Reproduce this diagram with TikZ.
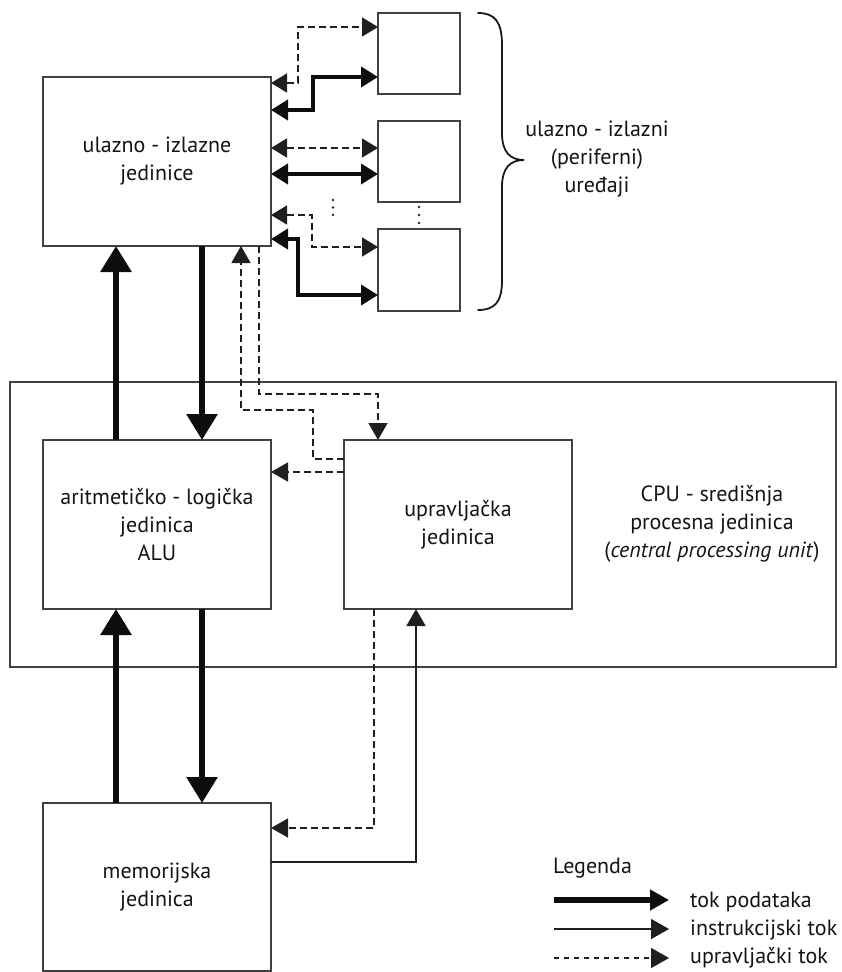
\documentclass[tikz,border=0pt]{standalone}
\usepackage{fontspec}
\setmainfont{PT Sans}
\usetikzlibrary{arrows.meta}
\begin{document}
\begin{tikzpicture}[x=1pt,y=-1pt,
  mainfnt/.style={font={\fontsize{22}{28}\selectfont}},
  box/.style={draw=black!75, line width=1.4pt, inner sep=0pt, outer sep=0pt, align=center, mainfnt, text=black!92},
  txt/.style={inner sep=0pt, align=center, mainfnt, text=black!92},
  bigarrow/.style={draw=black!95, line width=6pt, -{Triangle[length=26pt,width=30pt]}},
  sidethick/.style={draw=black!95, line width=4pt, {Triangle[length=17pt,width=20pt]}-{Triangle[length=17pt,width=20pt]}},
  sidedash/.style={draw=black!88, line width=1.4pt, dash pattern=on 7pt off 4pt, {Triangle[length=16pt,width=19pt]}-{Triangle[length=16pt,width=19pt]}},
  ctrl/.style={draw=black!88, line width=1.4pt, dash pattern=on 7pt off 4pt, -{Triangle[length=17pt,width=19pt]}},
  instr/.style={draw=black!88, line width=1.4pt, -{Triangle[length=17pt,width=19pt]}},
]
\useasboundingbox (0,0) rectangle (842,972);

% boxes
\node[box, minimum width=826pt, minimum height=285pt] (cpu) at (423,524.5) {};
\node[box, minimum width=228pt, minimum height=169pt] (io) at (157,161.5) {ulazno - izlazne\\jedinice};
\node[box, minimum width=82pt, minimum height=81pt] (p1) at (419,53.5) {};
\node[box, minimum width=82pt, minimum height=81pt] (p2) at (419,161.5) {};
\node[box, minimum width=82pt, minimum height=82pt] (p3) at (419,270) {};
\node[box, minimum width=228pt, minimum height=169pt] (alu) at (157,524.5) {aritmetičko - logička\\jedinica\\ALU};
\node[box, minimum width=228pt, minimum height=169pt] (cu) at (458,524.5) {upravljačka\\jedinica};
\node[box, minimum width=228pt, minimum height=168pt] (mem) at (157,887) {memorijska\\jedinica};

% texts
\node[txt] (cputxt) at (712,523.5) {CPU - središnja\\procesna jedinica\\(\textit{central processing unit})};
\node[txt] (periftxt) at (597,159) {ulazno - izlazni\\(periferni)\\uređaji};

% brace
\draw[line width=1.8pt, black!90, line cap=round]
  (478,13) .. controls (495,13) and (502,22) .. (502,45) -- (502,133)
  .. controls (502,152) and (510,160) .. (524,160)
  .. controls (510,160) and (502,168) .. (502,187) -- (502,280)
  .. controls (502,302) and (495,310) .. (478,310);

% dots
\foreach \yy in {200,207.5,215} \fill[black!85] (333,\yy) circle (1.4pt);
\foreach \yy in {207,215,223} \fill[black!85] (419,\yy) circle (1.4pt);

% io <-> peripherals
\draw[sidedash] (io.east |- 0,83) -| (298,27) -- (p1.west |- 0,27);
\draw[sidethick] (io.east |- 0,110) -| (313,77) -- (p1.west |- 0,77);
\draw[sidedash] (io.east |- 0,148) -- (p2.west |- 0,148);
\draw[sidethick] (io.east |- 0,174) -- (p2.west |- 0,174);
\draw[sidedash] (io.east |- 0,215) -| (312,247) -- (p3.west |- 0,247);
\draw[sidethick] (io.east |- 0,239) -| (298,295) -- (p3.west |- 0,295);

% data flows
\draw[bigarrow] (alu.north -| 116,0) -- (io.south -| 116,0);
\draw[bigarrow] (io.south -| 202,0) -- (alu.north -| 202,0);
\draw[bigarrow] (mem.north -| 116,0) -- (alu.south -| 116,0);
\draw[bigarrow] (alu.south -| 202,0) -- (mem.north -| 202,0);

% control flows
\draw[ctrl] (cu.west |- 0,459) -| (313,410) -| (io.south -| 241,0);
\draw[ctrl] (io.south -| 259,0) |- (378,394) -- (cu.north -| 378,0);
\draw[ctrl] (cu.west |- 0,472) -- (alu.east |- 0,472);
\draw[ctrl] (cu.south -| 374,0) |- (mem.east |- 0,828);
\draw[instr] (mem.east |- 0,862) -| (cu.south -| 416,0);

% legend
\node[txt, anchor=west] (leg) at (553,868) {Legenda};
\coordinate (l1a) at (554,900); \coordinate (l1b) at (669,900);
\coordinate (l2a) at (554,929); \coordinate (l2b) at (669,929);
\coordinate (l3a) at (554,958); \coordinate (l3b) at (669,958);
\draw[draw=black!95, line width=5.5pt, -{Triangle[length=19pt,width=20pt]}] (l1a) -- (l1b);
\draw[instr, -{Triangle[length=18pt,width=20pt]}] (l2a) -- (l2b);
\draw[ctrl, dash pattern=on 5pt off 5pt, -{Triangle[length=18pt,width=20pt]}] (l3a) -- (l3b);
\node[txt, anchor=west] (lt1) at (690,902) {tok podataka};
\node[txt, anchor=west] (lt2) at (690,930) {instrukcijski tok};
\node[txt, anchor=west] (lt3) at (690,958) {upravljački tok};
\end{tikzpicture}
\end{document}
